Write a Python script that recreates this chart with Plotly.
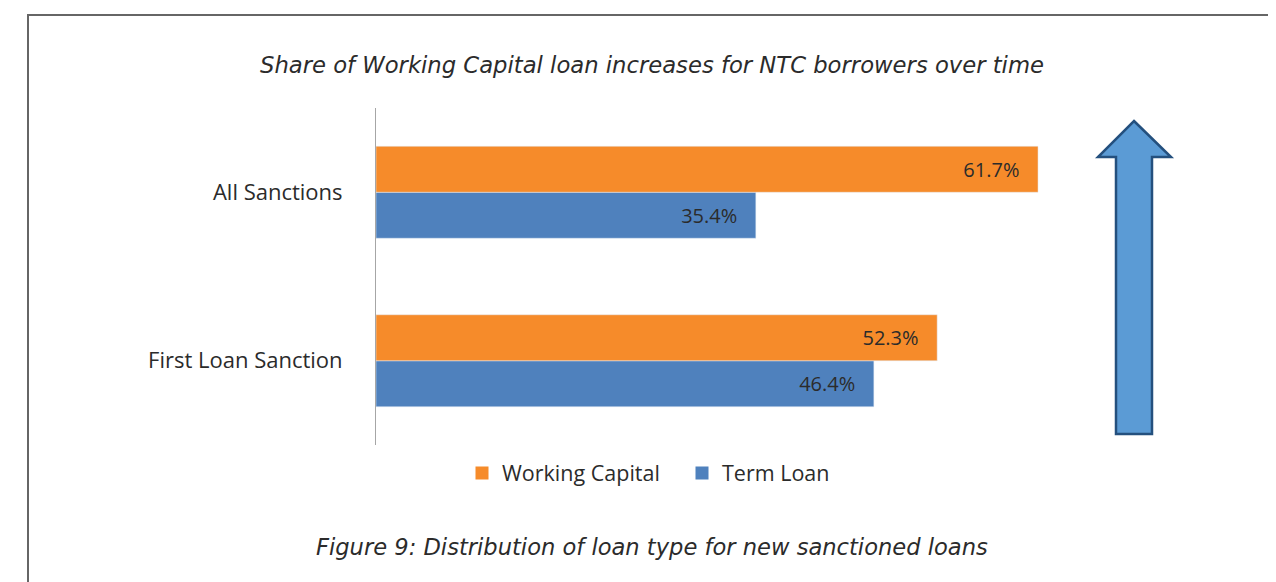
import plotly.graph_objects as go

categories = ["First Loan Sanction", "All Sanctions"]
working_capital = [52.3, 61.7]
term_loan = [46.4, 35.4]

W, H = 1276, 582
OFF = 8  # page body margin
ML, MT = 376 - OFF, 108 - OFF
PW = 751
PH = 337
MR = W - ML - PW
MB = H - MT - PH

def px(x):  # page pixel -> paper
    return (x - OFF - ML) / PW

def py(y):
    return (MT + PH - (y - OFF)) / PH

FONT = "Open Sans"
TFONT = "DejaVu Sans"
TXT = "#2b2b2b"
ORANGE = "#F68B2A"
BLUE = "#4F81BD"
PAD = "\u00a0\u00a0\u00a0"

fig = go.Figure()
fig.add_trace(go.Bar(
    y=categories, x=term_loan, orientation="h", name="Term Loan",
    marker_color=BLUE, text=[f"{v}%{PAD}" for v in term_loan],
    textposition="inside", insidetextanchor="end", showlegend=False,
    textfont=dict(color=TXT, size=20, family=FONT),
))
fig.add_trace(go.Bar(
    y=categories, x=working_capital, orientation="h", name="Working Capital",
    marker_color=ORANGE, text=[f"{v}%{PAD}" for v in working_capital],
    textposition="inside", insidetextanchor="end", showlegend=False,
    textfont=dict(color=TXT, size=20, family=FONT),
))
# legend entries with larger square symbols
fig.add_trace(go.Scatter(x=[None], y=[None], mode="markers", name="Working Capital",
                         marker=dict(symbol="square", size=13, color=ORANGE), legendrank=1))
fig.add_trace(go.Scatter(x=[None], y=[None], mode="markers", name="Term Loan",
                         marker=dict(symbol="square", size=13, color=BLUE), legendrank=2))

# arrow
arrow = [(1134, 121), (1171, 157), (1152, 157), (1152, 434), (1116, 434), (1116, 157), (1098, 157)]
path = "M " + " L ".join(f"{px(x):.5f},{py(y):.5f}" for x, y in arrow) + " Z"
fig.add_shape(type="path", path=path, xref="paper", yref="paper",
              fillcolor="#5B9BD5", line=dict(color="#24507E", width=2.5))
# border
fig.add_shape(type="rect", xref="paper", yref="paper",
              x0=px(28), x1=px(1275), y0=py(620), y1=py(15),
              line=dict(color="#666666", width=2), fillcolor="rgba(0,0,0,0)")

fig.add_annotation(text="<i>Share of Working Capital loan increases for NTC borrowers over time</i>",
                   xref="paper", yref="paper", x=px(652), y=py(65), showarrow=False,
                   xanchor="center", yanchor="middle",
                   font=dict(size=22.7, color=TXT, family=TFONT))
fig.add_annotation(text="<i>Figure 9: Distribution of loan type for new sanctioned loans</i>",
                   xref="paper", yref="paper", x=px(652), y=py(547), showarrow=False,
                   xanchor="center", yanchor="middle",
                   font=dict(size=22.6, color=TXT, family=TFONT))

fig.update_layout(
    width=W, height=H, margin=dict(l=ML, r=MR, t=MT, b=MB),
    paper_bgcolor="white", plot_bgcolor="white",
    barmode="group", bargap=0.454, bargroupgap=0,
    font=dict(family=FONT, color=TXT, size=18),
    showlegend=True,
    legend=dict(orientation="h", x=px(462), xanchor="left", y=py(473), yanchor="middle",
                font=dict(size=21.5, color=TXT, family=FONT),
                entrywidth=175, entrywidthmode="pixels"),
)
fig.update_xaxes(range=[0, PW / 10.73], visible=False, showgrid=False, zeroline=False)
fig.update_yaxes(range=[-0.5, 1.5], showline=True, linecolor="#A6A6A6", linewidth=1,
                 ticks="", showgrid=False, ticklabelstandoff=28,
                 tickfont=dict(size=22, color=TXT, family=FONT))

fig.write_html("out.html")
